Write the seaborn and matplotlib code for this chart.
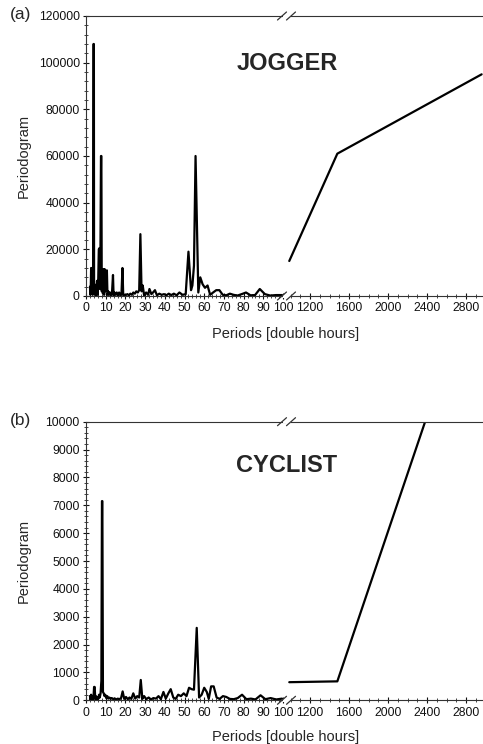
import numpy as np
import pandas as pd
import matplotlib
matplotlib.use("Agg")
import matplotlib.pyplot as plt
import seaborn as sns
from matplotlib.ticker import MultipleLocator
from matplotlib.lines import Line2D
from matplotlib.patches import Rectangle

# ---------------- data ----------------
jog_periods = [2.0, 2.2, 2.4, 2.6, 2.8, 3.0, 3.2, 3.4, 3.6, 3.8, 4.0, 4.1, 4.3, 4.5, 4.8,
               5.0, 5.3, 5.6, 5.9, 6.2, 6.5, 6.8, 7.0, 7.3, 7.6, 7.8, 8.0, 8.3, 8.6, 8.9,
               9.2, 9.5, 9.8, 10.2, 10.6, 10.9, 11.3, 11.7, 12.2, 12.7, 13.2, 13.7, 14.0,
               14.5, 15.0, 15.6, 16.2, 16.8, 17.4, 18.0, 18.5, 18.9, 19.5, 20.2, 21.0,
               21.8, 22.5, 23.3, 24.0, 24.8, 25.5, 26.3, 27.0, 27.6, 28.2, 28.8, 29.5,
               30.5, 31.5, 32.2, 33.2, 34.0, 35.0, 36.0, 37.2, 38.4, 39.6, 40.8, 42.0,
               43.3, 44.6, 46.0, 47.4, 49.0, 50.6, 52.0, 53.3, 54.0, 54.8, 55.6, 57.0,
               58.0, 59.2, 60.4, 61.7, 63.0, 64.5, 66.1, 67.7, 69.4, 71.2, 73.0, 74.9,
               76.9, 79.0, 81.2, 83.5, 85.8, 88.2, 90.8, 93.5, 96.5, 99.5]
jog_values = [4000, 500, 3000, 12000, 1000, 12000, 2000, 500, 5000, 108000, 108000, 3000,
              5000, 1000, 3000, 200, 1500, 6500, 500, 6500, 20000, 20500, 3000, 15000,
              60000, 60000, 2000, 8000, 1000, 11500, 500, 11500, 2000, 4000, 11000, 500,
              2000, 500, 1500, 300, 1500, 9000, 200, 1500, 500, 1500, 200, 1500, 300, 800,
              12000, 300, 500, 400, 800, 300, 1000, 500, 1500, 1000, 2000, 1500, 2500,
              26500, 2000, 4500, 200, 1500, 500, 3000, 800, 1500, 2500, 300, 1000, 500,
              800, 300, 1000, 400, 1000, 300, 1500, 500, 800, 19000, 2500, 4500, 13000,
              60000, 1500, 8000, 5000, 3500, 4500, 500, 1500, 2500, 2500, 500, 300, 1000,
              500, 200, 800, 1500, 300, 400, 3000, 800, 200, 400, 400]
jog_long_periods = [987, 1480, 2960]
jog_long_values = [15000, 61000, 95000]

cyc_periods = [2.0, 2.3, 2.6, 2.9, 3.2, 3.5, 3.8, 4.1, 4.4, 4.7, 5.0, 5.4, 5.8, 6.2, 6.6,
               7.0, 7.4, 7.8, 8.1, 8.3, 8.6, 9.0, 9.4, 9.8, 10.3, 10.8, 11.3, 11.9, 12.5,
               13.1, 13.8, 14.5, 15.3, 16.1, 17.0, 17.8, 18.6, 19.4, 20.3, 21.2, 22.1,
               23.0, 24.0, 25.0, 26.0, 27.0, 27.8, 28.6, 29.5, 30.6, 31.8, 33.0, 34.2,
               35.5, 36.8, 38.0, 39.3, 40.5, 41.8, 43.0, 44.3, 45.5, 46.8, 48.2, 49.6,
               51.0, 52.3, 53.6, 54.8, 56.2, 57.4, 58.7, 60.0, 61.3, 62.3, 63.5, 64.8,
               66.3, 67.8, 69.5, 71.2, 73.0, 75.0, 77.0, 79.2, 81.4, 83.7, 86.0, 88.6,
               91.0, 93.7, 96.5, 99.5]
cyc_values = [150, 20, 200, 50, 150, 30, 100, 480, 480, 60, 150, 30, 100, 50, 200, 100,
              250, 700, 7150, 7150, 300, 250, 150, 200, 80, 150, 60, 100, 50, 80, 40, 70,
              30, 60, 40, 80, 320, 50, 120, 40, 100, 50, 250, 60, 150, 100, 730, 50, 150,
              40, 100, 30, 80, 60, 150, 40, 300, 60, 250, 400, 100, 50, 200, 150, 250,
              150, 450, 400, 380, 2600, 100, 200, 450, 300, 50, 500, 500, 100, 50, 150,
              120, 50, 40, 80, 200, 40, 60, 30, 180, 40, 80, 30, 60]
cyc_long_periods = [987, 1480, 2960]
cyc_long_values = [650, 680, 16000]

short_ticks = list(range(0, 101, 10))
long_ticks = [1200, 1600, 2000, 2400, 2800]

# ---------------- style ----------------
sns.set_style("ticks")
plt.rcParams['font.family'] = ['Liberation Sans', 'DejaVu Sans']

W, H = 483, 744
fig = plt.figure(figsize=(W / 100, H / 100), dpi=100)

def fx(px):
    return px / W

def fy(py):
    return 1 - py / H

FS = 8.7
panels = [
    dict(top=16, bottom=296, label="(a)", name="JOGGER", ymax=120000, ymaj=20000, ymin=4000,
         sp=jog_periods, sv=jog_values, lp=jog_long_periods, lv=jog_long_values,
         name_y=63, xlabel_y=334),
    dict(top=421.7, bottom=700.3, label="(b)", name="CYCLIST", ymax=10000, ymaj=1000, ymin=200,
         sp=cyc_periods, sv=cyc_values, lp=cyc_long_periods, lv=cyc_long_values,
         name_y=466, xlabel_y=737),
]

x_left0, x_left1 = 86, 285
x_right0, x_right1 = 288, 483

for p in panels:
    h = (p['bottom'] - p['top']) / H
    y0 = fy(p['bottom'])
    axL = fig.add_axes([fx(x_left0), y0, fx(x_left1 - x_left0), h])
    axR = fig.add_axes([fx(x_right0), y0, fx(x_right1 - x_right0), h])

    dfS = pd.DataFrame({"period": p['sp'], "value": p['sv']})
    dfL = pd.DataFrame({"period": p['lp'], "value": p['lv']})
    sns.lineplot(data=dfS, x="period", y="value", ax=axL, color="black", lw=1.6,
                 estimator=None, sort=False)
    sns.lineplot(data=dfL, x="period", y="value", ax=axR, color="black", lw=1.6,
                 estimator=None, sort=False)

    axL.set_xlim(0, 101)
    axR.set_xlim(974, 2974)
    for ax in (axL, axR):
        ax.set_ylim(0, p['ymax'])
        ax.set_xlabel("")
        ax.set_ylabel("")
        for s in ax.spines.values():
            s.set_linewidth(0.8)
            s.set_color("#333333")

    axL.set_xticks(short_ticks)
    axL.xaxis.set_minor_locator(MultipleLocator(2))
    axL.yaxis.set_major_locator(MultipleLocator(p['ymaj']))
    axL.yaxis.set_minor_locator(MultipleLocator(p['ymin']))
    axL.spines['right'].set_visible(False)
    axL.spines['top'].set_visible(True)

    axR.set_xticks(long_ticks)
    axR.xaxis.set_minor_locator(MultipleLocator(100))
    axR.set_yticks([])
    axR.spines['left'].set_visible(False)
    axR.spines['right'].set_visible(False)
    axR.spines['top'].set_visible(True)

    for ax in (axL, axR):
        ax.tick_params(axis='both', which='major', direction='inout', length=5, width=0.8,
                       labelsize=FS, pad=2, colors="#111111")
        ax.tick_params(axis='both', which='minor', direction='inout', length=3, width=0.6)
    axR.tick_params(axis='y', which='both', left=False, labelleft=False)

    # break marks "//" in figure pixel coordinates
    for ypix in (p['top'], p['bottom']):
        fig.add_artist(Rectangle((fx(283), fy(ypix + 1.5)), fx(8), 3 / H,
                                 transform=fig.transFigure, facecolor="white",
                                 edgecolor="none", zorder=5))
        for cx in (282, 291):
            fig.add_artist(Line2D([fx(cx - 4.5), fx(cx + 4.5)], [fy(ypix + 4), fy(ypix - 4)],
                                  transform=fig.transFigure, color="#333333", lw=0.9,
                                  zorder=6))

    # panel label, title, axis labels
    fig.text(fx(10), fy(p['top'] - 1), p['label'], fontsize=12.5, ha='left', va='center')
    fig.text(fx(287), fy(p['name_y']), p['name'], fontsize=17, fontweight='bold',
             ha='center', va='center')
    fig.text(fx(24), fy((p['top'] + p['bottom']) / 2), "Periodogram", fontsize=10.5,
             rotation=90, ha='center', va='center')
    fig.text(fx(286), fy(p['xlabel_y']), "Periods [double hours]", fontsize=10.5,
             ha='center', va='center')

fig.savefig("out.png", dpi=100)
